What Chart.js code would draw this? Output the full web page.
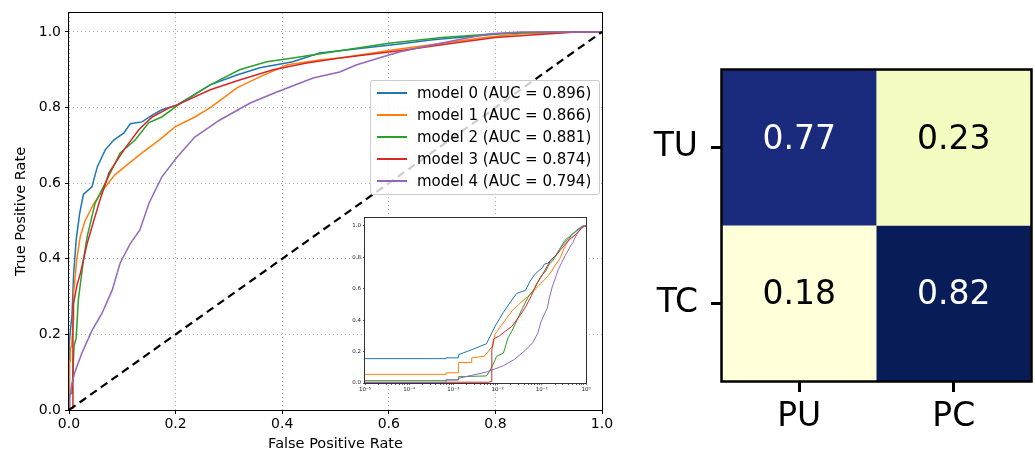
<!DOCTYPE html>
<html>
<head>
<meta charset="utf-8">
<script src="https://cdn.jsdelivr.net/npm/chart.js@4.4.0/dist/chart.umd.min.js"></script>
<style>
  html,body{margin:0;padding:0;background:#fff;}
  body{width:1035px;height:454px;position:relative;overflow:hidden;font-family:"DejaVu Sans",sans-serif;}
  canvas{position:absolute;}
  #roc{left:0;top:0;}
  #inset{left:335px;top:210px;}
  #cm{left:620px;top:0;}
  #legend{position:absolute;left:370px;top:80px;width:230px;height:115px;border:1px solid #ccc;border-radius:3px;background:rgba(255,255,255,0.8);box-sizing:border-box;}
  .row{position:absolute;left:0;height:22px;display:flex;align-items:center;font-size:15px;color:#000;white-space:nowrap;}
  .sw{width:30px;height:0;border-top:2px solid;margin-left:6px;margin-right:10px;}
</style>
</head>
<body>
<canvas id="roc" width="620" height="454"></canvas>
<div id="legend"></div>
<canvas id="inset" width="260" height="190"></canvas>
<canvas id="cm" width="415" height="454"></canvas>
<script>
// --- data ---
const models = ['model 0', 'model 1', 'model 2', 'model 3', 'model 4'];
const aucs = [0.896, 0.866, 0.881, 0.874, 0.794];
const colors = ['#1f77b4', '#ff7f0e', '#2ca02c', '#d62728', '#9467bd'];

const fpr0 = [0, 1e-6, 0.00068, 0.00068, 0.0013, 0.0013, 0.0025, 0.0056, 0.0087, 0.0135, 0.02, 0.027, 0.043, 0.053, 0.068, 0.084, 0.103, 0.115, 0.137, 0.156, 0.174, 0.203, 0.265, 0.315, 0.358, 0.42, 0.47, 0.508, 0.62, 0.683, 0.747, 0.81, 0.87, 1];
const tpr0 = [0, 0.155, 0.155, 0.16, 0.16, 0.18, 0.21, 0.25, 0.36, 0.45, 0.52, 0.57, 0.59, 0.643, 0.688, 0.714, 0.733, 0.757, 0.762, 0.78, 0.794, 0.807, 0.86, 0.886, 0.905, 0.921, 0.944, 0.95, 0.968, 0.979, 0.987, 0.995, 0.998, 1];

const fpr1 = [0, 1e-6, 0.00068, 0.00068, 0.0013, 0.0013, 0.0026, 0.0026, 0.005, 0.0079, 0.0087, 0.0148, 0.021, 0.03, 0.047, 0.068, 0.086, 0.113, 0.137, 0.169, 0.199, 0.236, 0.265, 0.315, 0.358, 0.41, 0.47, 0.508, 0.62, 0.7, 0.78, 0.85, 0.95, 1];
const tpr1 = [0, 0.055, 0.055, 0.065, 0.065, 0.13, 0.13, 0.16, 0.17, 0.24, 0.31, 0.40, 0.458, 0.50, 0.547, 0.59, 0.622, 0.653, 0.68, 0.714, 0.749, 0.775, 0.80, 0.852, 0.881, 0.913, 0.926, 0.931, 0.955, 0.97, 0.985, 0.995, 1, 1];

const fpr2 = [0, 1e-6, 0.00068, 0.00068, 0.0013, 0.0013, 0.0056, 0.0074, 0.0095, 0.0135, 0.0174, 0.021, 0.028, 0.034, 0.049, 0.068, 0.096, 0.124, 0.15, 0.174, 0.203, 0.265, 0.32, 0.371, 0.42, 0.508, 0.6, 0.7, 0.8, 0.9, 1];
const tpr2 = [0, 0.015, 0.015, 0.02, 0.02, 0.04, 0.045, 0.10, 0.17, 0.19, 0.29, 0.33, 0.405, 0.458, 0.547, 0.60, 0.68, 0.714, 0.76, 0.775, 0.805, 0.86, 0.90, 0.921, 0.931, 0.95, 0.97, 0.985, 0.995, 1, 1];

const fpr3 = [0, 1e-6, 0.0062, 0.0074, 0.0074, 0.0081, 0.011, 0.015, 0.021, 0.034, 0.043, 0.058, 0.075, 0.103, 0.131, 0.156, 0.188, 0.203, 0.265, 0.32, 0.383, 0.446, 0.508, 0.62, 0.72, 0.8, 0.95, 1];
const tpr3 = [0, 0.005, 0.005, 0.01, 0.21, 0.28, 0.30, 0.33, 0.36, 0.44, 0.484, 0.555, 0.627, 0.688, 0.741, 0.775, 0.799, 0.807, 0.847, 0.873, 0.90, 0.918, 0.931, 0.95, 0.97, 0.985, 1, 1];

const fpr4 = [0, 1e-6, 0.00068, 0.00068, 0.0013, 0.0013, 0.0056, 0.011, 0.0135, 0.024, 0.043, 0.062, 0.081, 0.096, 0.115, 0.133, 0.15, 0.174, 0.203, 0.236, 0.283, 0.34, 0.39, 0.458, 0.508, 0.54, 0.60, 0.62, 0.683, 0.747, 0.79, 0.85, 1];
const tpr4 = [0, 0.003, 0.003, 0.02, 0.02, 0.03, 0.07, 0.10, 0.11, 0.15, 0.21, 0.256, 0.317, 0.389, 0.44, 0.476, 0.547, 0.616, 0.669, 0.722, 0.767, 0.812, 0.841, 0.878, 0.894, 0.913, 0.939, 0.947, 0.966, 0.984, 0.995, 1, 1];

const chanceLine = [0, 1];
const rateTicks = [0, 0.2, 0.4, 0.6, 0.8, 1.0];
const insetDecades = [1e-5, 1e-4, 1e-3, 1e-2, 1e-1, 1];
const insetDecadeLabels = ['10\u207b\u2075', '10\u207b\u2074', '10\u207b\u00b3', '10\u207b\u00b2', '10\u207b\u00b9', '10\u2070'];

const cmRows = ['TU', 'TC'];
const cmCols = ['PU', 'PC'];
const cmTU = [0.77, 0.23];
const cmTC = [0.18, 0.82];

const FONT = '"DejaVu Sans", sans-serif';
const fprs = [fpr0, fpr1, fpr2, fpr3, fpr4];
const tprs = [tpr0, tpr1, tpr2, tpr3, tpr4];

// box around the plot area, like matplotlib spines
function framePlugin(w, color) {
  return {
    id: 'frame',
    afterDraw(c) {
      const a = c.chartArea, ctx = c.ctx;
      ctx.save();
      ctx.strokeStyle = color; ctx.lineWidth = w;
      const o = (w % 2) ? 0.5 : 0;
      ctx.strokeRect(a.left - o, a.top - o, a.right - a.left + 2 * o, a.bottom - a.top + 2 * o);
      ctx.restore();
    }
  };
}
const whiteArea = {
  id: 'whiteArea',
  beforeDraw(c) {
    const a = c.chartArea;
    c.ctx.save(); c.ctx.fillStyle = '#fff';
    c.ctx.fillRect(a.left, a.top, a.right - a.left, a.bottom - a.top);
    c.ctx.restore();
  }
};

// ---------- main ROC ----------
const rocSets = models.map((m, i) => ({
  label: m,
  data: fprs[i].map((f, j) => ({x: f, y: tprs[i][j]})),
  borderColor: colors[i], borderWidth: 1.5, pointRadius: 0, fill: false, tension: 0, order: -i
}));
rocSets.push({
  label: 'chance', data: chanceLine.map(v => ({x: v, y: v})),
  borderColor: '#000', borderWidth: 2.2, borderDash: [8, 5], pointRadius: 0, order: -10
});

new Chart(document.getElementById('roc'), {
  type: 'line',
  data: {datasets: rocSets},
  options: {
    responsive: false, animation: false, devicePixelRatio: 1,
    layout: {padding: {top: 13, right: 18, left: 0, bottom: 0}},
    plugins: {legend: {display: false}, tooltip: {enabled: false}},
    scales: {
      x: {
        type: 'linear', min: 0, max: 1,
        afterBuildTicks: s => { s.ticks = rateTicks.map(v => ({value: v})); },
        afterFit: s => { s.height = 44; },
        grid: {color: '#b0b0b0', lineWidth: 1, tickLength: 4, tickColor: '#000', tickWidth: 1},
        border: {display: false, dash: [1, 3]},
        ticks: {callback: v => v.toFixed(1), color: '#000', font: {family: FONT, size: 14}, padding: 2, maxRotation: 0},
        title: {display: true, text: 'False Positive Rate', color: '#000', font: {family: FONT, size: 14.5}, padding: {top: 0, bottom: 1}}
      },
      y: {
        type: 'linear', min: 0, max: 1.05,
        afterBuildTicks: s => { s.ticks = rateTicks.map(v => ({value: v})); },
        afterFit: s => { s.width = 69; },
        grid: {color: '#b0b0b0', lineWidth: 1, tickLength: 4, tickColor: '#000', tickWidth: 1},
        border: {display: false, dash: [1, 3]},
        ticks: {callback: v => v.toFixed(1), color: '#000', font: {family: FONT, size: 14}, padding: 4},
        title: {display: true, text: 'True Positive Rate', color: '#000', font: {family: FONT, size: 14.5}, padding: {top: 13, bottom: 0}}
      }
    }
  },
  plugins: [framePlugin(1, '#000')]
});

// legend
const leg = document.getElementById('legend');
models.forEach((m, i) => {
  const r = document.createElement('div');
  r.className = 'row';
  r.style.top = (1 + i * 22) + 'px';
  r.innerHTML = '<span class="sw" style="border-color:' + colors[i] + '"></span>' + m + ' (AUC = ' + aucs[i].toFixed(3) + ')';
  leg.appendChild(r);
});

// ---------- inset, log FPR ----------
const insetSets = models.map((m, i) => ({
  label: m,
  data: fprs[i].map((f, j) => ({x: f, y: tprs[i][j]})).filter(p => p.x > 0),
  borderColor: colors[i], borderWidth: 1, pointRadius: 0, tension: 0, order: -i
}));
new Chart(document.getElementById('inset'), {
  type: 'line',
  data: {datasets: insetSets},
  options: {
    responsive: false, animation: false, devicePixelRatio: 1,
    layout: {padding: {top: 8, right: 9, left: 0, bottom: 0}},
    plugins: {legend: {display: false}, tooltip: {enabled: false}},
    scales: {
      x: {
        type: 'logarithmic', min: 1e-5, max: 1,
        afterBuildTicks: s => {
          const t = [];
          insetDecades.forEach((d, k) => {
            if (k === insetDecades.length - 1) { t.push({value: d}); return; }
            for (let m = 1; m < 10; m++) t.push({value: d * m});
          });
          s.ticks = t;
        },
        afterFit: s => { s.height = 17; },
        grid: {drawOnChartArea: false, tickLength: 2, tickColor: '#333', tickWidth: 0.8},
        border: {display: false},
        ticks: {
          autoSkip: false, maxRotation: 0, color: '#222', font: {family: FONT, size: 5.5}, padding: 1,
          callback: v => { const k = insetDecades.findIndex(d => Math.abs(d - v) / d < 1e-6); return k >= 0 ? insetDecadeLabels[k] : ''; }
        }
      },
      y: {
        type: 'linear', min: 0, max: 1.05,
        afterBuildTicks: s => { s.ticks = rateTicks.map(v => ({value: v})); },
        afterFit: s => { s.width = 30; },
        grid: {drawOnChartArea: false, tickLength: 2, tickColor: '#333', tickWidth: 0.8},
        border: {display: false},
        ticks: {callback: v => v.toFixed(1), color: '#222', font: {family: FONT, size: 5.5}, padding: 2}
      }
    }
  },
  plugins: [whiteArea, framePlugin(1, '#333')]
});

// ---------- confusion matrix ----------
const cmAll = cmTU.concat(cmTC);
const vMin = Math.min(...cmAll), vMax = Math.max(...cmAll);
const ylgnbu = ['#ffffd9', '#edf8b1', '#c7e9b4', '#7fcdbb', '#41b6c4', '#1d91c0', '#225ea8', '#253494', '#081d58'];
function cmap(v) {
  const t = Math.max(0, Math.min(1, (v - vMin) / (vMax - vMin))) * (ylgnbu.length - 1);
  const i = Math.min(Math.floor(t), ylgnbu.length - 2), f = t - i;
  const a = ylgnbu[i], b = ylgnbu[i + 1];
  const c = k => Math.round(parseInt(a.substr(k, 2), 16) * (1 - f) + parseInt(b.substr(k, 2), 16) * f);
  return 'rgb(' + c(1) + ',' + c(3) + ',' + c(5) + ')';
}
const cmData = [cmTU, cmTC];
const cmSets = cmData.map((row, r) => ({
  label: cmRows[r],
  data: row.map(() => [cmRows.length - 1 - r, cmRows.length - r]),
  vals: row,
  backgroundColor: row.map(cmap),
  borderColor: 'rgba(140,146,160,0.9)', borderWidth: 0.6,
  barPercentage: 1, categoryPercentage: 1, grouped: false
}));
const cellText = {
  id: 'cellText',
  afterDatasetsDraw(c) {
    const ctx = c.ctx;
    ctx.save();
    ctx.font = '33px ' + FONT;
    ctx.textAlign = 'center'; ctx.textBaseline = 'alphabetic';
    c.data.datasets.forEach((ds, di) => {
      c.getDatasetMeta(di).data.forEach((el, j) => {
        const v = ds.vals[j];
        ctx.fillStyle = (v - vMin) / (vMax - vMin) > 0.5 ? '#fff' : '#000';
        ctx.fillText(v.toFixed(2), el.x, (el.y + el.base) / 2 + 1);
      });
    });
    ctx.restore();
  }
};
new Chart(document.getElementById('cm'), {
  type: 'bar',
  data: {labels: cmCols, datasets: cmSets},
  options: {
    responsive: false, animation: false, devicePixelRatio: 1,
    layout: {padding: {top: 70, right: 4, left: 0, bottom: 0}},
    plugins: {legend: {display: false}, tooltip: {enabled: false}},
    scales: {
      x: {
        afterFit: s => { s.height = 73; },
        grid: {drawOnChartArea: false, tickLength: 11, tickColor: '#000', tickWidth: 3, offset: false},
        border: {display: false},
        ticks: {color: '#000', font: {family: FONT, size: 33}, padding: 6}
      },
      y: {
        type: 'linear', min: 0, max: cmRows.length,
        afterBuildTicks: s => { s.ticks = cmRows.map((r, i) => ({value: cmRows.length - 1 - i + 0.5})); },
        afterFit: s => { s.width = 102; },
        grid: {drawOnChartArea: false, tickLength: 11, tickColor: '#000', tickWidth: 3},
        border: {display: false},
        ticks: {color: '#000', font: {family: FONT, size: 33}, padding: 13,
          callback: v => cmRows[cmRows.length - 1 - Math.floor(v)]}
      }
    }
  },
  plugins: [cellText, framePlugin(2.5, '#000')]
});
</script>
</body>
</html>
